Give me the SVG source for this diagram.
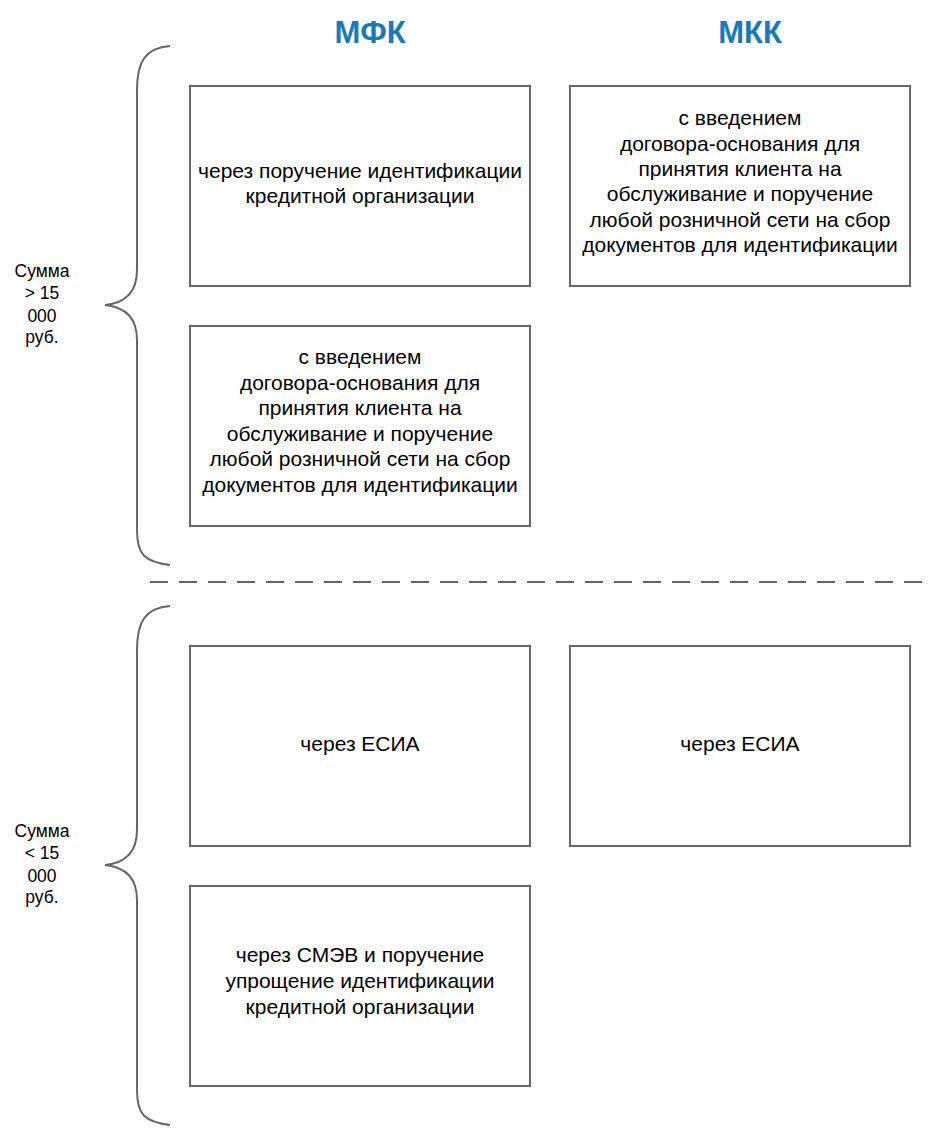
<svg xmlns="http://www.w3.org/2000/svg" width="945" height="1139" viewBox="0 0 945 1139">
<style>
.box{fill:#fff;stroke:#666;stroke-width:2}
.t{font-family:"Liberation Sans",Arial,sans-serif;font-size:21px;fill:#000;text-anchor:middle}
.s{font-family:"Liberation Sans",Arial,sans-serif;font-size:17.5px;fill:#000;text-anchor:middle}
.h{font-family:"Liberation Sans",Arial,sans-serif;font-size:31px;font-weight:bold;fill:#1a7ab5;text-anchor:middle}
.br{fill:none;stroke:#666;stroke-width:2}
</style>
<rect width="945" height="1139" fill="#fff"/>
<g id="headers">
<text class="h" x="370" y="43">МФК</text>
<text class="h" x="750" y="43">МКК</text>
</g>
<g id="connectors">
<path class="br" d="M170,46 C145,48 137,62 137,90 L137,270 C137,292 125,303 105,305 C125,307 137,318 137,340 L137,530 C137,555 145,562 170,565"/>
<path class="br" d="M170,606 C145,608 137,622 137,650 L137,830 C137,852 125,863 105,865 C125,867 137,878 137,900 L137,1090 C137,1115 145,1122 170,1125"/>
<line x1="150" y1="582" x2="930" y2="582" stroke="#666" stroke-width="2" stroke-dasharray="18 11"/>
</g>
<g id="label-gt">
<text class="s" x="42" y="277">Сумма</text>
<text class="s" x="42" y="299">&gt; 15</text>
<text class="s" x="42" y="322">000</text>
<text class="s" x="42" y="343">руб.</text>
</g>
<g id="label-lt">
<text class="s" x="42" y="837">Сумма</text>
<text class="s" x="42" y="859">&lt; 15</text>
<text class="s" x="42" y="882">000</text>
<text class="s" x="42" y="903">руб.</text>
</g>
<g id="mfk1">
<rect class="box" x="190" y="86" width="340" height="200"/>
<text class="t" x="360" y="178">через поручение идентификации</text>
<text class="t" x="360" y="203">кредитной организации</text>
</g>
<g id="mkk1">
<rect class="box" x="570" y="86" width="340" height="200"/>
<text class="t" x="740" y="125">с введением</text>
<text class="t" x="740" y="151">договора-основания для</text>
<text class="t" x="740" y="176">принятия клиента на</text>
<text class="t" x="740" y="201">обслуживание и поручение</text>
<text class="t" x="740" y="227">любой розничной сети на сбор</text>
<text class="t" x="740" y="252">документов для идентификации</text>
</g>
<g id="mfk2">
<rect class="box" x="190" y="326" width="340" height="200"/>
<text class="t" x="360" y="364">с введением</text>
<text class="t" x="360" y="390">договора-основания для</text>
<text class="t" x="360" y="415">принятия клиента на</text>
<text class="t" x="360" y="441">обслуживание и поручение</text>
<text class="t" x="360" y="466">любой розничной сети на сбор</text>
<text class="t" x="360" y="492">документов для идентификации</text>
</g>
<g id="mfk3">
<rect class="box" x="190" y="646" width="340" height="200"/>
<text class="t" x="360" y="751">через ЕСИА</text>
</g>
<g id="mkk3">
<rect class="box" x="570" y="646" width="340" height="200"/>
<text class="t" x="740" y="751">через ЕСИА</text>
</g>
<g id="mfk4">
<rect class="box" x="190" y="886" width="340" height="200"/>
<text class="t" x="360" y="962">через СМЭВ и поручение</text>
<text class="t" x="360" y="988">упрощение идентификации</text>
<text class="t" x="360" y="1014">кредитной организации</text>
</g>
</svg>
